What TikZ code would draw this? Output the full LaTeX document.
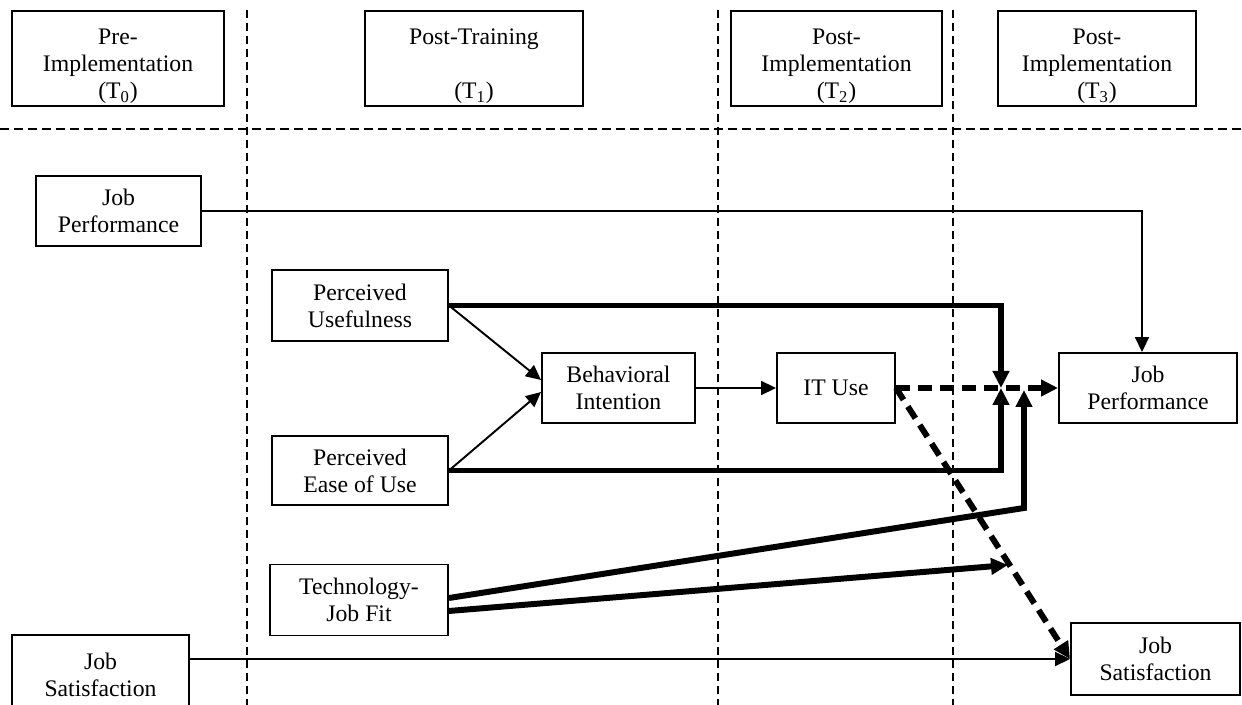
\documentclass[tikz,border=0pt]{standalone}
\usepackage{fontspec}
\setmainfont{Liberation Serif}
\usetikzlibrary{arrows.meta}
\newlength{\pxu}
\setlength{\pxu}{0.02cm}
\newcommand{\headstrut}{\rule{0pt}{18pt}}
\tikzset{
	box/.style={draw,line width=1.1pt,align=center,inner sep=0pt,font=\fontsize{13.5}{15.3}\selectfont},
	thinarr/.style={line width=1.1pt,-{Triangle[length=0.3cm,width=0.28cm]}},
	thickarr/.style={line width=3.4pt,-{Triangle[length=0.34cm,width=0.32cm]}},
	dasharr/.style={thickarr,dash pattern=on 0.28cm off 0.16cm},
	phase/.style={line width=0.8pt,dash pattern=on 0.16cm off 0.1cm},
}
\begin{document}
\begin{tikzpicture}[
		x=0.02cm,
		y=-0.02cm,
	]
		\useasboundingbox (0,0) rectangle (1242,705);
		
		% time phases
		\foreach \x in {247,718,953}{
			\draw[phase] (\x,10) -- (\x,705);
		}
		\draw[line width=1.1pt,dash pattern=on 0.18cm off 0.1cm] (0,129) -- (1242,129);
		
		\node[box,minimum width=212\pxu,minimum height=95\pxu] (tPre) at (118,58.5) {\headstrut Pre-\\Implementation\\(T\textsubscript{0})};
		\node[box,minimum width=218\pxu,minimum height=95\pxu] (tTrain) at (474,58.5) {\headstrut Post-Training\\[15.3pt](T\textsubscript{1})};
		\node[box,minimum width=211\pxu,minimum height=95\pxu] (tImpl) at (836.5,58.5) {\headstrut Post-\\Implementation\\(T\textsubscript{2})};
		\node[box,minimum width=198\pxu,minimum height=95\pxu] (tLate) at (1097,58.5) {\headstrut Post-\\Implementation\\(T\textsubscript{3})};
		
		% constructs
		\node[box,minimum width=165\pxu,minimum height=70\pxu] (jpPre) at (118.5,211) {Job\\Performance};
		\node[box,minimum width=176\pxu,minimum height=71\pxu] (pu) at (360,305.5) {Perceived\\Usefulness};
		\node[box,minimum width=176\pxu,minimum height=69\pxu] (peou) at (360,470.5) {Perceived\\Ease of Use};
		\node[box,minimum width=178\pxu,minimum height=71\pxu] (tjf) at (359,600) {Technology-\\Job Fit};
		\node[box,minimum width=153\pxu,minimum height=70\pxu] (bi) at (618.5,388) {Behavioral\\Intention};
		\node[box,minimum width=118\pxu,minimum height=70\pxu] (it) at (836,388) {IT Use};
		\node[box,minimum width=178\pxu,minimum height=70\pxu] (jpPost) at (1148,388) {Job\\Performance};
		\node[box,minimum width=177\pxu,minimum height=80\pxu] (jsPre) at (100.5,675) {Job\\Satisfaction};
		\node[box,minimum width=169\pxu,minimum height=72\pxu] (jsPost) at (1155.5,659) {Job\\Satisfaction};
		
		\coordinate (jn) at (1001,388);
		\coordinate (jt) at (1024,390);
		\coordinate (bend) at (1024,508);
		\coordinate (fitTip) at (1008,565);
		
		\draw[thinarr] (jpPre.east) -| ([xshift=-6\pxu]jpPost.north);
		\draw[thinarr] (pu.east) -- ([yshift=0.16cm]bi.west);
		\draw[thinarr] (peou.east) -- ([yshift=-0.08cm]bi.west);
		\draw[thinarr] (bi.east) -- (it.west);
		\draw[thinarr] (jsPre.east |- jsPost.west) -- (jsPost.west);
		
		\draw[thickarr] (pu.east) -| (jn);
		\draw[thickarr] (peou.east) -| (jn);
		\draw[thickarr] ([yshift=0.04cm]tjf.east) -- (bend) -- (jt);
		\draw[thickarr] ([yshift=-0.22cm]tjf.east) -- (fitTip);
		
		\draw[dasharr] (it.east) -- (jpPost.west);
		\draw[dasharr] (it.east) -- (jsPost.west);
	\end{tikzpicture}
\end{document}
